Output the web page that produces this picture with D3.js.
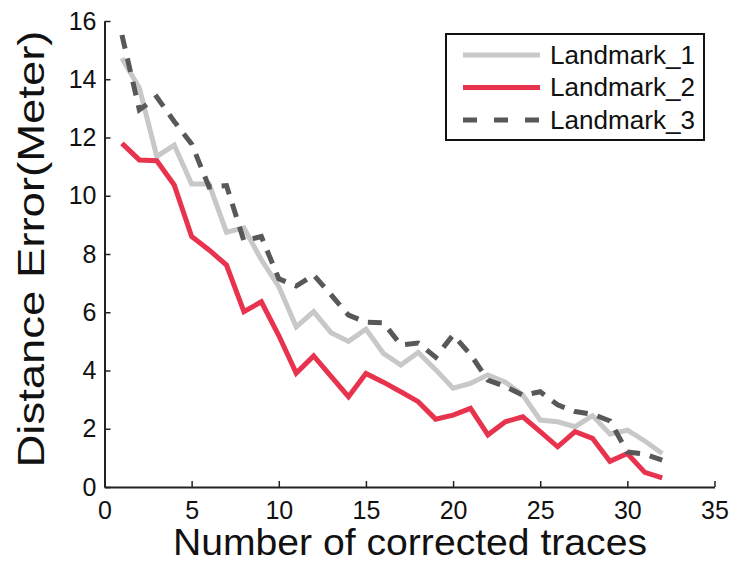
<!DOCTYPE html>
<html>
<head>
<meta charset="utf-8">
<script src="https://cdn.jsdelivr.net/npm/d3@7"></script>
<style>
  html, body { margin: 0; padding: 0; background: #fff; }
  svg { display: block; font-family: "Liberation Sans", Arial, sans-serif; }
</style>
</head>
<body>
<svg id="chart" width="731" height="564"></svg>
<script>
// Number of corrected traces (x) and distance error in metres for each landmark
const traces = d3.range(1, 33);
const landmark1 = [14.72, 13.7, 11.35, 11.74, 10.4, 10.4, 8.75, 8.9, 7.8, 6.88,
                   5.5, 6.02, 5.3, 5.0, 5.42, 4.59, 4.19, 4.62, 4.03, 3.39,
                   3.56, 3.85, 3.6, 3.16, 2.3, 2.24, 2.07, 2.45, 1.82, 1.95,
                   1.58, 1.15];
const landmark2 = [11.8, 11.23, 11.2, 10.37, 8.6, 8.14, 7.62, 6.02, 6.36, 5.2,
                   3.91, 4.5, 3.8, 3.1, 3.9, 3.6, 3.27, 2.93, 2.33, 2.47,
                   2.7, 1.79, 2.24, 2.41, 1.9, 1.38, 1.9, 1.67, 0.88, 1.15,
                   0.5, 0.31];
const landmark3 = [15.52, 12.95, 13.39, 12.55, 11.78, 10.3, 10.35, 8.45, 8.6, 7.15,
                   6.9, 7.28, 6.6, 5.9, 5.66, 5.64, 4.88, 4.94, 4.46, 5.22,
                   4.55, 3.67, 3.45, 3.15, 3.27, 2.82, 2.59, 2.5, 2.27, 1.2,
                   1.13, 0.92];
const seriesNames = ["Landmark_1", "Landmark_2", "Landmark_3"];
const xTicks = [0, 5, 10, 15, 20, 25, 30, 35];
const yTicks = [0, 2, 4, 6, 8, 10, 12, 14, 16];

const series = [
  { name: seriesNames[0], values: landmark1, color: "#c8c8c8", dash: null },
  { name: seriesNames[1], values: landmark2, color: "#e8334f", dash: null },
  { name: seriesNames[2], values: landmark3, color: "#585858", dash: "14,10" }
];

const svg = d3.select("#chart");
const x = d3.scaleLinear().domain([0, 35]).range([104.5, 714.5]);
const y = d3.scaleLinear().domain([0, 16]).range([487, 21]);

// Data lines
const line = d3.line().x((d, i) => x(traces[i])).y(d => y(d));
svg.append("g").selectAll("path")
  .data(series)
  .join("path")
  .attr("d", d => line(d.values))
  .attr("fill", "none")
  .attr("stroke", d => d.color)
  .attr("stroke-width", 5)
  .attr("stroke-linejoin", "miter")
  .attr("stroke-dasharray", d => d.dash);

// Axes with inward ticks
const xAxis = d3.axisBottom(x).tickValues(xTicks).tickSizeInner(-6).tickSizeOuter(0).tickPadding(14);
const yAxis = d3.axisLeft(y).tickValues(yTicks).tickSizeInner(-6).tickSizeOuter(0).tickPadding(8);

const gx = svg.append("g").attr("transform", `translate(0,${y(0)})`).call(xAxis);
const gy = svg.append("g").attr("transform", `translate(${x(0)},0)`).call(yAxis);
[gx, gy].forEach(g => {
  g.select(".domain").attr("stroke", "#222").attr("stroke-width", 2);
  g.selectAll(".tick line").attr("stroke", "#222").attr("stroke-width", 1.5);
  g.selectAll(".tick text").attr("fill", "#111").attr("font-size", 25)
    .attr("font-family", "Liberation Sans, Arial, sans-serif");
});

// Axis titles
svg.append("text")
  .attr("x", 410).attr("y", 555)
  .attr("text-anchor", "middle")
  .attr("font-size", 36)
  .attr("textLength", 474).attr("lengthAdjust", "spacingAndGlyphs")
  .attr("fill", "#111")
  .text("Number of corrected traces");

svg.append("text")
  .attr("transform", "translate(44,249) rotate(-90)")
  .attr("text-anchor", "middle")
  .attr("font-size", 37)
  .attr("textLength", 437).attr("lengthAdjust", "spacingAndGlyphs")
  .attr("fill", "#111")
  .text("Distance Error(Meter)");

// Legend
const legend = svg.append("g");
legend.append("rect")
  .attr("x", 446).attr("y", 34).attr("width", 258).attr("height", 106)
  .attr("fill", "#fff").attr("stroke", "#111").attr("stroke-width", 2);
const rows = legend.selectAll("g.row").data(series).join("g")
  .attr("class", "row")
  .attr("transform", (d, i) => `translate(0,${55 + i * 32.5})`);
rows.append("line")
  .attr("x1", 463).attr("x2", 540)
  .attr("stroke", d => d.color).attr("stroke-width", 5)
  .attr("stroke-dasharray", d => d.dash ? "14,17" : null);
rows.append("text")
  .attr("x", 550).attr("y", 8.5)
  .attr("font-size", 25)
  .attr("textLength", 145).attr("lengthAdjust", "spacingAndGlyphs")
  .attr("fill", "#111")
  .text(d => d.name);
</script>
</body>
</html>
